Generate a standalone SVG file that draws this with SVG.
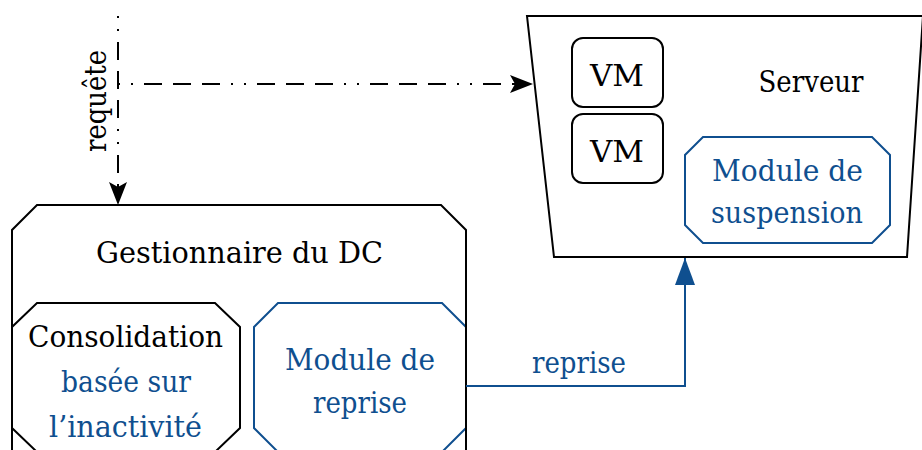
<svg xmlns="http://www.w3.org/2000/svg" width="922" height="450" viewBox="0 0 922 450">
<defs>
<style>
text{font-family:'DejaVu Serif',serif}
.t{font-size:30px;fill:#000;text-anchor:middle}
.b{fill:#0f4f8f}
.k{fill:#fff;stroke:#000;stroke-width:2;stroke-linejoin:miter}
.bl{fill:#fff;stroke:#0f4f8f;stroke-width:2}
.dd{fill:none;stroke:#000;stroke-width:2;stroke-dasharray:2 11 2 11 18 11 18 11 18 11}
</style>
<marker id="ak" markerWidth="24" markerHeight="18" refX="23" refY="9" orient="auto" markerUnits="userSpaceOnUse">
<path d="M0,0 L23,9 L0,18 L5,9 Z" fill="#000"/>
</marker>
<marker id="ab" markerWidth="28" markerHeight="20" refX="27" refY="10" orient="auto" markerUnits="userSpaceOnUse">
<path d="M0,0 L27,10 L0,20 Z" fill="#0f4f8f"/>
</marker>
</defs>
<rect width="922" height="450" fill="#fff"/>

<g id="serveur">
<path class="k" d="M527,16 L923,16 L907,257 L554,257 Z"/>
<text class="t" x="811" y="92" textLength="105" lengthAdjust="spacingAndGlyphs">Serveur</text>
</g>
<g id="vm1">
<rect class="k" x="572" y="38" width="91" height="69" rx="11"/>
<text class="t" x="617" y="86" textLength="54" lengthAdjust="spacingAndGlyphs">VM</text>
</g>
<g id="vm2">
<rect class="k" x="572" y="114" width="91" height="69" rx="11"/>
<text class="t" x="617" y="162" textLength="54" lengthAdjust="spacingAndGlyphs">VM</text>
</g>
<g id="suspension">
<path class="bl" d="M703,137 L872,137 L890,155 L890,225 L872,243 L703,243 L685,225 L685,155 Z"/>
<text class="t b" x="787.5" y="181" textLength="151" lengthAdjust="spacingAndGlyphs">Module de</text>
<text class="t b" x="787" y="223" textLength="152" lengthAdjust="spacingAndGlyphs">suspension</text>
</g>

<g id="gestionnaire">
<path class="k" d="M37,205 L441,205 L466,230 L466,470 L441,495 L37,495 L12,470 L12,230 Z"/>
<text class="t" x="239.5" y="263" textLength="287" lengthAdjust="spacingAndGlyphs">Gestionnaire du DC</text>
</g>
<g id="consolidation">
<path class="k" d="M37,303 L215,303 L240,327 L240,428 L215,452 L37,452 L12,428 L12,327 Z"/>
<text class="t" x="125.5" y="347" textLength="195" lengthAdjust="spacingAndGlyphs">Consolidation</text>
<text class="t b" x="126" y="392" textLength="130" lengthAdjust="spacingAndGlyphs">basée sur</text>
<text class="t b" x="125.5" y="437" textLength="153" lengthAdjust="spacingAndGlyphs">l’inactivité</text>
</g>
<g id="reprise">
<path class="bl" d="M278,303 L442,303 L466,327 L466,428 L442,452 L278,452 L254,428 L254,327 Z"/>
<path d="M466,300 L466,452" stroke="#000" stroke-width="2" fill="none"/>
<text class="t b" x="360" y="370" textLength="150" lengthAdjust="spacingAndGlyphs">Module de</text>
<text class="t b" x="360" y="413" textLength="94" lengthAdjust="spacingAndGlyphs">reprise</text>
</g>

<g id="connectors">
<path class="dd" d="M118,16 L118,205" marker-end="url(#ak)"/>
<path class="dd" d="M118,84 L533,84" marker-end="url(#ak)"/>
<text class="t" transform="translate(106,101) rotate(-90)" textLength="102" lengthAdjust="spacingAndGlyphs">requête</text>
<path d="M466,386 L685,386 L685,258" fill="none" stroke="#0f4f8f" stroke-width="2" marker-end="url(#ab)"/>
<text class="t b" x="579" y="373" textLength="94" lengthAdjust="spacingAndGlyphs">reprise</text>
</g>
</svg>
